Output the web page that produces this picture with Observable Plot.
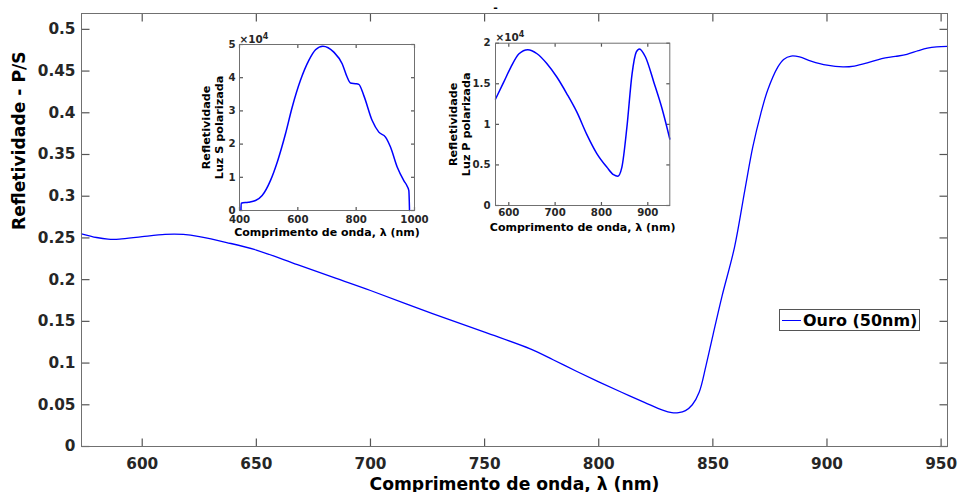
<!DOCTYPE html>
<html><head><meta charset="utf-8">
<script src="https://cdn.jsdelivr.net/npm/d3@7"></script>
<script src="https://cdn.jsdelivr.net/npm/@observablehq/plot@0.6"></script>
<style>
body{margin:0;background:#fff;}
#wrap{position:relative;width:958px;height:492px;font-family:"DejaVu Sans",sans-serif;}
#wrap svg{position:absolute;}
.legend{position:absolute;left:779px;top:309px;width:139px;height:20px;border:1px solid #555;background:#fff;display:flex;align-items:center;font-weight:bold;font-size:16px;color:#000;font-family:"DejaVu Sans",sans-serif;}
.legend .sw{display:inline-block;width:19px;height:0;border-top:1.5px solid #0000ff;margin-left:2px;margin-right:2px;}
</style></head><body><div id="wrap"></div>
<script>
// ---- main curve: reflectivity ratio P/S vs wavelength (nm)
const mainWavelength = [573.4,580,585,590,600,610,614,618,625,637,650,668,685,700,726,750,770,780,790,800,810,820,828,832,835,838,841,844,847,850,854,859.5,864,867.5,871,874,878.5,881,884.3,888,893,900,907,912,918,924,930,935,940,944,948,952.8];
const mainRatio = [0.255,0.2505,0.2485,0.2485,0.2515,0.2542,0.2546,0.2542,0.2515,0.2445,0.2355,0.218,0.2015,0.187,0.1605,0.137,0.117,0.104,0.0905,0.0775,0.065,0.053,0.0435,0.0405,0.0405,0.043,0.050,0.065,0.097,0.133,0.180,0.239,0.307,0.359,0.399,0.427,0.455,0.464,0.468,0.467,0.462,0.457,0.455,0.456,0.460,0.465,0.4675,0.470,0.4745,0.4775,0.479,0.4795];
const xTicks = [600,650,700,750,800,850,900,950];
const yTicks = [0,0.05,0.1,0.15,0.2,0.25,0.3,0.35,0.4,0.45,0.5];
const xLabel = "Comprimento de onda, λ (nm)";
const yLabel = "Refletividade - P/S";
const legendLabel = "Ouro (50nm)";
const titleText = "-";

// ---- inset S (x10^4)
const sWavelength = [405,405.7,430,454.9,477.7,506,531,557.7,580.6,609,637.7,660.6,685.7,723.4,752,769,780.6,797.7,809,826.3,854.9,877.7,900.6,917.7,940.6,963.4,974.9,980.6,982.9];
const sValue = [0,0.22,0.25,0.30,0.45,0.90,1.5,2.31,3.11,3.92,4.52,4.84,4.95,4.77,4.42,4.02,3.84,3.82,3.80,3.46,2.71,2.36,2.21,1.91,1.31,0.90,0.73,0.60,0];
const sXTicks = [400,600,800,1000];
const sYTicks = [0,1,2,3,4,5];
const sYLabel = "Refletividade\nLuz S polarizada";

// ---- inset P (x10^4)
const pWavelength = [571.3,589,604,622,641,661,682,704,725,747,768,790,812,826,835,844,855,866,875,882,895,913,931,947.5];
const pValue = [1.31,1.52,1.70,1.87,1.92,1.87,1.75,1.58,1.38,1.15,0.88,0.64,0.47,0.38,0.36,0.47,0.97,1.62,1.89,1.93,1.83,1.52,1.19,0.82];
const pXTicks = [600,700,800,900];
const pYTicks = [0,0.5,1,1.5,2];
const pYLabel = "Refletividade\nLuz P polarizada";
const insetXLabel = "Comprimento de onda, λ (nm)";
const expBase = "×10";
const expPower = "4";

const wrap = document.getElementById("wrap");
const fmt = d => String(d);
const axisGray = "#707070";
const tickGray = "#555555";
const textDark = "#262626";

// inward tick marks on all four sides of a box-style axes, drawn as short links inside the frame
function tickMarks(xt, yt, xDom, yDom, len, fw, fh) {
  const dy = (yDom[1] - yDom[0]) * len / fh;
  const dx = (xDom[1] - xDom[0]) * len / fw;
  const o = {stroke: tickGray, strokeWidth: 1.2};
  const bottom = xt.map(x => ({x1: x, x2: x, y1: yDom[0], y2: yDom[0] + dy}));
  const top = xt.map(x => ({x1: x, x2: x, y1: yDom[1], y2: yDom[1] - dy}));
  const leftT = yt.map(y => ({x1: xDom[0], x2: xDom[0] + dx, y1: y, y2: y}));
  const rightT = yt.map(y => ({x1: xDom[1], x2: xDom[1] - dx, y1: y, y2: y}));
  return [bottom, top, leftT, rightT].map(d => Plot.link(d, {x1: "x1", x2: "x2", y1: "y1", y2: "y2", ...o}));
}

const W = 958, H = 492, mL = 81, mR = 11, mT = 13, mB = 46;
const mainXDom = [573.4, 952.8], mainYDom = [0, 0.519];
const mainData = mainWavelength.map((w,i)=>({w, r: mainRatio[i]}));
const main = Plot.plot({
  width: W, height: H,
  marginLeft: mL, marginRight: mR, marginTop: mT, marginBottom: mB,
  x: {domain: mainXDom},
  y: {domain: mainYDom},
  style: {fontFamily: "DejaVu Sans", fontWeight: "bold", fontSize: "15.3px", color: textDark, background: "transparent", overflow: "visible"},
  marks: [
    Plot.axisX(xTicks, {anchor: "bottom", tickSize: 0, tickPadding: 12, label: null, tickFormat: fmt}),
    Plot.axisY(yTicks, {anchor: "left", tickSize: 0, tickPadding: 6, label: null, tickFormat: fmt}),
    ...tickMarks(xTicks, yTicks, mainXDom, mainYDom, 8, W - mL - mR, H - mT - mB),
    Plot.line(mainData, {x: "w", y: "r", stroke: "#0000ff", strokeWidth: 1.3, curve: "catmull-rom"}),
    Plot.frame({stroke: axisGray}),
    Plot.text([xLabel], {frameAnchor: "bottom", lineAnchor: "bottom", dy: 43, fontSize: 17.2, fill: "#000"}),
    Plot.text([yLabel], {frameAnchor: "left", rotate: -90, lineAnchor: "middle", dx: -62, fontSize: 17.2, fill: "#000"}),
    Plot.text([titleText], {frameAnchor: "top", lineAnchor: "bottom", dx: -19, dy: -3, fontSize: 11, fill: "#000"})
  ]
});
main.style.left = "0px"; main.style.top = "0px";
wrap.appendChild(main);

function inset({w, v, xDomain, yDomain, xt, yt, ylab, left, top, width, height, mL, mT, mR, mB, xPad, yPad, xLabDy, yLabDx, yLineH, expDy}) {
  const data = w.map((x,i)=>({x, y: v[i]}));
  const p = Plot.plot({
    width, height, marginLeft: mL, marginTop: mT, marginRight: mR, marginBottom: mB,
    x: {domain: xDomain}, y: {domain: yDomain},
    style: {fontFamily: "DejaVu Sans", fontWeight: "bold", fontSize: "10.2px", color: textDark, background: "transparent", overflow: "visible"},
    marks: [
      Plot.frame({fill: "white"}),
      Plot.axisX(xt, {anchor: "bottom", tickSize: 0, tickPadding: xPad, label: null, tickFormat: fmt}),
      Plot.axisY(yt, {anchor: "left", tickSize: 0, tickPadding: yPad, label: null, tickFormat: fmt}),
      ...tickMarks(xt, yt, xDomain, yDomain, 3.5, width - mL - mR, height - mT - mB),
      Plot.line(data, {x: "x", y: "y", stroke: "#0000ff", strokeWidth: 1.5, curve: "monotone-x"}),
      Plot.frame({stroke: axisGray}),
      Plot.text([insetXLabel], {frameAnchor: "bottom", lineAnchor: "bottom", dy: xLabDy, fontSize: 11, fill: "#000"}),
      Plot.text([ylab], {frameAnchor: "left", rotate: -90, lineAnchor: "middle", textAnchor: "middle", dx: yLabDx, fontSize: 11.2, lineHeight: yLineH, fill: "#000"}),
      Plot.text([expBase], {frameAnchor: "top-left", textAnchor: "start", lineAnchor: "bottom", dy: expDy, fontSize: 10.4, fill: textDark, className: "expo"})
    ]
  });
  // add the superscript power as a tspan on the exponent text
  d3.select(p).selectAll(".expo text").each(function() {
    d3.select(this).append("tspan").attr("dy", "-0.45em").attr("font-size", "8px").text(expPower);
  });
  p.style.left = left + "px"; p.style.top = top + "px";
  wrap.appendChild(p);
}

inset({w: sWavelength, v: sValue, xDomain: [400, 1000], yDomain: [0, 5], xt: sXTicks, yt: sYTicks, ylab: sYLabel,
  left: 190, top: 25, width: 235, height: 215, mL: 49, mT: 19, mR: 11, mB: 30, xPad: 5.5, yPad: 4, xLabDy: 25, yLabDx: -27, yLineH: 1.09, expDy: -2});
inset({w: pWavelength, v: pValue, xDomain: [571.3, 947.5], yDomain: [0, 2], xt: pXTicks, yt: pYTicks, ylab: pYLabel,
  left: 440, top: 25, width: 240, height: 215, mL: 55, mT: 17.7, mR: 10.7, mB: 35, xPad: 3.6, yPad: 5, xLabDy: 25.5, yLabDx: -36.5, yLineH: 1.18, expDy: -2.7});

const lg = document.createElement("div");
lg.className = "legend";
lg.innerHTML = '<span class="sw"></span><span></span>';
lg.lastChild.textContent = legendLabel;
wrap.appendChild(lg);
</script>
</body></html>
